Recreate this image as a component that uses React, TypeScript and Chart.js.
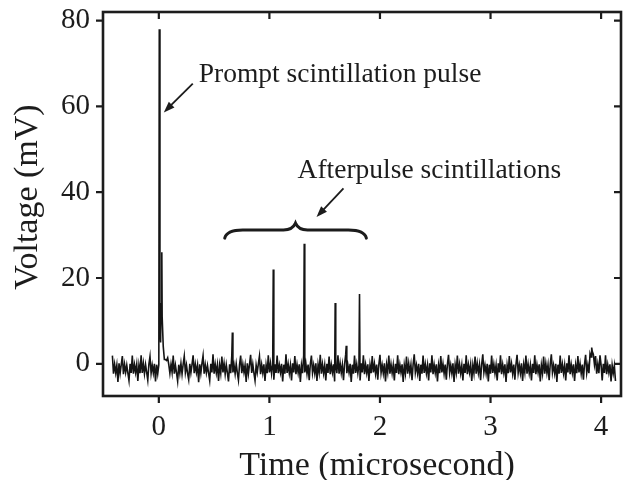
import React, { useEffect, useRef } from "react";
import { Chart, registerables } from "chart.js";

Chart.register(...registerables);

// ---- data ----
const traceStart = -0.42;
const traceStep = 0.01;
const traceVoltage = [
  1.9, -2.3, -0.1, -2.1, -0.3, -4.2, 0.1, -2.2, -0.2, 1.8, -2.4, -0.1,
  -2.0, -0.3, -2.2, -3.9, 0.0, -2.1, 1.9, -2.3, -0.2, -2.0, -0.1, -4.0,
  -0.3, -2.2, 2.0, -2.1, 0.1, -2.3, -0.2, -2.0, -3.8, -0.1, 1.7, -2.2,
  -0.3, -2.1, 0.0, -4.1, -0.2, -2.3, -0.2, 9.0, 14.0, 11.0, 4.0, 1.0,
  1.0, 0.8, 1.4, -0.2, -2.2, -0.1, -2.0, 1.9, -2.3, -0.3, -2.1, -4.0,
  -0.2, -2.2, 0.1, -2.4, -0.1, 1.8, -2.0, -0.3, -2.3, -3.7, 0.0, -2.1,
  -0.2, 2.0, -2.2, -0.1, -2.0, -0.3, -4.3, -0.1, -2.2, 0.1, 1.9, -2.3,
  -0.2, -2.1, -0.4, -2.2, -3.9, 0.0, -2.0, 2.2, -2.3, -0.1, -2.1, -0.2,
  -4.0, -0.3, -2.2, 1.7, -2.0, 0.1, -2.4, -0.2, -2.1, -4.1, -0.1, -2.2,
  2.0, -2.0, -0.3, -2.3, 0.0, -2.1, -3.8, -0.2, 1.9, -2.2, -0.1, -2.0,
  -0.3, -4.2, 0.1, -2.3, -0.2, 2.1, -2.1, -0.1, -2.2, -3.9, -0.3, -2.0,
  0.0, 1.8, -2.4, -0.2, -2.1, -0.1, -4.0, -0.3, -2.2, 2.0, -2.0, 0.1,
  -2.3, -0.2, -3.7, -0.1, -2.1, 1.9, -2.2, -0.3, -2.0, 0.0, -4.1, -0.2,
  -2.3, 2.2, -2.1, -0.1, -2.2, -0.3, -3.9, 0.1, -2.0, 1.8, -2.4, -0.2,
  -2.1, -0.1, -4.2, -0.3, -2.2, 2.0, -2.0, 0.0, -2.3, -0.2, -3.8, -0.1,
  1.9, -2.1, -0.3, -2.2, 0.1, -4.0, -0.2, -2.0, 2.1, -2.3, -0.1, -2.2,
  -0.3, -3.9, 0.0, -2.1, 1.7, -2.4, -0.2, -2.0, -0.1, -4.1, -0.3, -2.2,
  2.0, -2.3, 0.1, -2.1, -0.2, -3.8, -0.1, 2.2, -2.2, -0.3, -2.0, 0.0,
  -4.2, -0.2, -2.3, 1.9, -2.1, -0.1, -2.2, -0.3, -3.9, 0.1, -2.0, 2.0,
  -2.4, -0.2, -2.1, -0.1, -4.0, -0.3, -2.2, 1.8, -2.0, 0.0, -2.3, -0.2,
  -3.7, -0.1, 2.1, -2.1, -0.3, -2.2, 0.1, -4.1, -0.2, -2.0, 1.9, -2.3,
  -0.1, -2.2, -0.3, -3.9, 0.0, -2.1, 2.0, -2.4, -0.2, -2.0, -0.1, -4.2,
  -0.3, -2.2, 1.7, -2.3, 0.1, -2.1, -0.2, -3.8, -0.1, 2.2, -2.0, -0.3,
  -2.2, 0.0, -4.0, -0.2, -2.3, 1.9, -2.1, -0.1, -2.2, -0.3, -3.9, 0.1,
  -2.0, 2.0, -2.4, -0.2, -2.1, -0.1, -4.1, -0.3, -2.2, 1.8, -2.0, 0.0,
  -2.3, -0.2, -3.7, -0.1, 2.1, -2.1, -0.3, -2.2, 0.1, -4.2, -0.2, -2.0,
  1.9, -2.3, -0.1, -2.2, -0.3, -3.9, 0.0, -2.1, 2.0, -2.4, -0.2, -2.0,
  -0.1, -4.0, -0.3, -2.2, 1.7, -2.3, 0.1, -2.1, -0.2, -3.8, -0.1, 2.2,
  -2.0, -0.3, -2.2, 0.0, -4.1, -0.2, -2.3, 1.9, -2.1, -0.1, -2.2, -0.3,
  -3.9, 0.1, -2.0, 2.0, -2.4, -0.2, -2.1, -0.1, -4.2, -0.3, -2.2, 1.8,
  -2.0, 0.0, -2.3, -0.2, -3.7, -0.1, 2.1, -2.1, -0.3, -2.2, 0.1, -4.0,
  -0.2, -2.0, 1.9, -2.3, -0.1, -2.2, -0.3, -3.9, 0.0, -2.1, 2.0, -2.4,
  -0.2, -2.0, -0.1, -4.1, -0.3, -2.2, 1.7, -2.3, 0.1, -2.1, -0.2, -3.8,
  -0.1, 2.2, -2.0, -0.3, -2.2, 0.0, -4.2, -0.2, -2.3, 1.9, -2.1, -0.1,
  -2.2, -0.3, -3.9, 0.1, -2.0, 2.0, -2.4, -0.2, -2.1, -0.1, -4.0, -0.3,
  -2.2, 1.8, -2.0, 0.0, -2.3, -0.2, -3.7, -0.1, 2.1, -2.1, -0.3, -2.2,
  2.4, 1.6, 2.9, 2.2, -0.2, 1.8, -2.3, -0.1, -2.2, 2.0, -0.3, -3.9,
  0.0, -2.1, 2.0, -2.4, -0.2, -2.0, -0.1, -4.1, -0.3, -2.2, -0.4, -4.0,
];
// scintillation pulses (prompt pulse + afterpulses)
const pulseTimes = [0.004, 0.016, 0.027, 0.665, 1.035, 1.315, 1.595, 1.695, 1.815, 3.915];
const pulseVoltage = [78, 5, 26, 7.3, 22, 28, 14.2, 4.2, 16.3, 3.8];

const xTicks = [0, 1, 2, 3, 4];
const yTicks = [0, 20, 40, 60, 80];
const xTitle = "Time (microsecond)";
const yTitle = "Voltage (mV)";
const promptLabel = "Prompt scintillation pulse";
const afterLabel = "Afterpulse scintillations";

const FONT = '"Liberation Serif", "Times New Roman", Times, serif';
const INK = "#1c1c1c";

function drawArrow(ctx: CanvasRenderingContext2D, x1: number, y1: number, x2: number, y2: number) {
  const ang = Math.atan2(y2 - y1, x2 - x1);
  const hl = 11;
  const hw = 4;
  ctx.beginPath();
  ctx.moveTo(x1, y1);
  ctx.lineTo(x2 - Math.cos(ang) * hl * 0.8, y2 - Math.sin(ang) * hl * 0.8);
  ctx.lineWidth = 1.8;
  ctx.stroke();
  ctx.beginPath();
  ctx.moveTo(x2, y2);
  ctx.lineTo(x2 - Math.cos(ang) * hl - Math.sin(ang) * hw, y2 - Math.sin(ang) * hl + Math.cos(ang) * hw);
  ctx.lineTo(x2 - Math.cos(ang) * hl + Math.sin(ang) * hw, y2 - Math.sin(ang) * hl - Math.cos(ang) * hw);
  ctx.closePath();
  ctx.fill();
}

const decorPlugin = {
  id: "decor",
  afterDraw(chart: any) {
    const { ctx, chartArea: ca, scales } = chart;
    const X = (t: number) => scales.x.getPixelForValue(t);
    const Y = (v: number) => scales.y.getPixelForValue(v);
    ctx.save();
    ctx.strokeStyle = INK;
    ctx.fillStyle = INK;
    // frame
    ctx.lineWidth = 2.6;
    ctx.strokeRect(ca.left, ca.top, ca.right - ca.left, ca.bottom - ca.top);
    // tick marks
    ctx.lineWidth = 2.2;
    ctx.beginPath();
    xTicks.forEach((t) => {
      const px = X(t);
      ctx.moveTo(px, ca.bottom);
      ctx.lineTo(px, ca.bottom + 7);
      ctx.moveTo(px, ca.top);
      ctx.lineTo(px, ca.top + 7);
    });
    yTicks.forEach((v) => {
      const py = Y(v);
      ctx.moveTo(ca.left - 7, py);
      ctx.lineTo(ca.left, py);
      ctx.moveTo(ca.right, py);
      ctx.lineTo(ca.right - 7, py);
    });
    ctx.stroke();

    // axis titles
    ctx.font = `34px ${FONT}`;
    ctx.textAlign = "center";
    ctx.textBaseline = "alphabetic";
    ctx.fillText(xTitle, (ca.left + ca.right) / 2 + 15, 475);
    ctx.save();
    ctx.translate(37, (ca.top + ca.bottom) / 2 - 7);
    ctx.rotate(-Math.PI / 2);
    ctx.fillText(yTitle, 0, 0);
    ctx.restore();

    // annotations
    ctx.font = `27.5px ${FONT}`;
    ctx.textAlign = "left";
    ctx.fillText(promptLabel, X(0.361), Y(65.6));
    ctx.fillText(afterLabel, X(1.255), Y(43.3));
    drawArrow(ctx, X(0.307), Y(65.3), X(0.045), Y(58.6));
    drawArrow(ctx, X(1.67), Y(40.9), X(1.426), Y(34.2));

    // curly brace over afterpulses
    const x0 = X(0.596), xm = X(1.236), x1 = X(1.877);
    const yEnd = Y(29.3), yRun = Y(31.2), yTip = Y(32.8);
    ctx.lineWidth = 3;
    ctx.lineCap = "round";
    ctx.beginPath();
    ctx.moveTo(x0, yEnd);
    ctx.quadraticCurveTo(x0 + 2, yRun, x0 + 18, yRun);
    ctx.lineTo(xm - 12, yRun);
    ctx.quadraticCurveTo(xm - 3, yRun, xm, yTip);
    ctx.quadraticCurveTo(xm + 3, yRun, xm + 12, yRun);
    ctx.lineTo(x1 - 18, yRun);
    ctx.quadraticCurveTo(x1 - 2, yRun, x1, yEnd);
    ctx.stroke();
    ctx.restore();
  },
};

export default function App() {
  const canvasRef = useRef<HTMLCanvasElement | null>(null);

  useEffect(() => {
    if (!canvasRef.current) return;
    const pts: { x: number; y: number }[] = traceVoltage.map((v, i) => ({ x: traceStart + i * traceStep, y: v }));
    pulseTimes.forEach((t, i) => pts.push({ x: t, y: pulseVoltage[i] }));
    pts.sort((a, b) => a.x - b.x);

    const tickFont = { family: FONT, size: 29 };
    const chart = new Chart(canvasRef.current, {
      type: "line",
      data: {
        datasets: [
          {
            data: pts,
            borderColor: "#141414",
            borderWidth: 1.6,
            pointRadius: 0,
            tension: 0,
            fill: false,
          },
        ],
      },
      options: {
        responsive: false,
        animation: false,
        events: [],
        layout: { padding: { top: 12, right: 3, left: 0, bottom: 0 } },
        plugins: { legend: { display: false }, tooltip: { enabled: false } },
        scales: {
          x: {
            type: "linear",
            min: -0.505,
            max: 4.18,
            afterBuildTicks: (s: any) => {
              s.ticks = xTicks.map((v) => ({ value: v }));
            },
            afterFit: (s: any) => {
              s.height = 84;
              s.paddingLeft = 0;
              s.paddingRight = 0;
            },
            grid: { display: false, drawTicks: false },
            border: { display: false },
            ticks: { font: tickFont, color: INK, padding: 14, maxRotation: 0, autoSkip: false },
          },
          y: {
            type: "linear",
            min: -7.5,
            max: 82,
            afterBuildTicks: (s: any) => {
              s.ticks = yTicks.map((v) => ({ value: v }));
            },
            afterFit: (s: any) => {
              s.width = 103;
              s.paddingTop = 0;
              s.paddingBottom = 0;
            },
            grid: { display: false, drawTicks: false },
            border: { display: false },
            ticks: { font: tickFont, color: INK, padding: 13 },
          },
        },
      },
      plugins: [decorPlugin],
    } as any);
    return () => chart.destroy();
  }, []);

  return (
    <div style={{ position: "absolute", left: 0, top: 0, width: 624, height: 480, background: "#fff" }}>
      <canvas ref={canvasRef} width={624} height={480} style={{ display: "block" }} />
    </div>
  );
}
